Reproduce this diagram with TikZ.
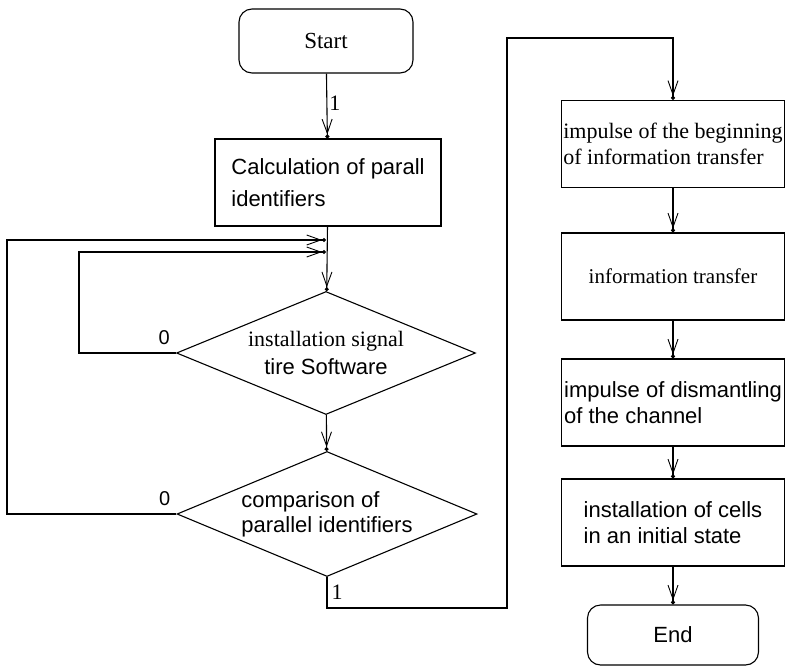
\documentclass[tikz,border=0pt]{standalone}
\usepackage{fontspec}
\setmainfont{Liberation Serif}
\setsansfont{Liberation Sans}
\usetikzlibrary{shapes.geometric,arrows.meta}

\tikzset{
  box/.style={draw, line width=1.1pt, inner sep=0pt},
  proc/.style={box, rectangle, minimum width=223pt, minimum height=87pt, align=left,
    font=\sffamily\fontsize{22}{26}\selectfont},
  term/.style={box, rectangle, rounded corners=13pt, font=\sffamily\fontsize{22}{26}\selectfont},
  cond/.style={box, diamond, aspect=2.43, minimum width=299pt, minimum height=123pt,
    font=\fontsize{22}{28}\selectfont},
  flow/.style={line width=1.1pt, -{Straight Barb[length=14pt,width=10pt,line width=0.9pt]Circle[length=4pt]}},
  lbl/.style={inner sep=2pt}
}

\begin{document}
\begin{tikzpicture}[x=1pt, y=-1pt]
\useasboundingbox (0,0) rectangle (787,667);

% left column
\node[term, minimum width=174pt, minimum height=64pt, font=\rmfamily\fontsize{23}{26}\selectfont] (start) at (326,41) {Start};
\node[proc, minimum width=226pt, font=\sffamily\fontsize{22}{32}\selectfont] (calc) at (328,182.5) {Calculation of parall\\identifiers};
\node[cond, align=center] (inst) at (326,353) {{\rmfamily installation signal}\\{\sffamily tire Software}};
\node[cond, align=left, minimum width=300pt, minimum height=125pt, font=\sffamily\fontsize{22}{25}\selectfont] (comp) at (327,514) {comparison of\\parallel identifiers};

% right column
\node[proc, font=\rmfamily\fontsize{22}{26}\selectfont] (beg) at (673,144) {impulse of the beginning\\of information transfer};
\node[proc, font=\rmfamily\fontsize{21}{26}\selectfont] (xfer) at (673,276.5) {information transfer};
\node[proc] (dism) at (673,402.5) {impulse of dismantling\\of the channel};
\node[proc] (init) at (673,522.5) {installation of cells\\in an initial state};
\node[term, minimum width=171pt, minimum height=60pt] (end) at (673,635) {End};

% junctions of the loops
\coordinate (j1) at (326,240);
\coordinate (j2) at (326,252);
\coordinate (outL) at (7,240);
\coordinate (inL) at (79,252);
\coordinate (c1) at (507,608);
\coordinate (c2) at (507,38);

\draw[flow] (start) -- node[lbl, right, pos=0.45, font=\rmfamily\fontsize{22}{22}\selectfont] {1} (calc);
\draw[flow] (calc) -- (inst);
\draw[flow] (inst) -- (comp);
\draw[flow] (inst.west) -| (inL) -- (j2);
\draw[flow] (comp.west) -| (outL) -- (j1);
\node[lbl, anchor=south east, font=\sffamily\fontsize{20}{20}\selectfont] at ([xshift=-4pt,yshift=6pt]inst.west) {0};
\node[lbl, anchor=south east, font=\sffamily\fontsize{20}{20}\selectfont] at ([xshift=-4pt,yshift=6pt]comp.west) {0};

\draw[flow] (comp.south) |- node[lbl, right, pos=0.25, xshift=2pt, font=\rmfamily\fontsize{22}{22}\selectfont] {1} (c1) -- (c2) -| (beg.north);
\draw[flow] (beg) -- (xfer);
\draw[flow] (xfer) -- (dism);
\draw[flow] (dism) -- (init);
\draw[flow] (init) -- (end);
\end{tikzpicture}
\end{document}
